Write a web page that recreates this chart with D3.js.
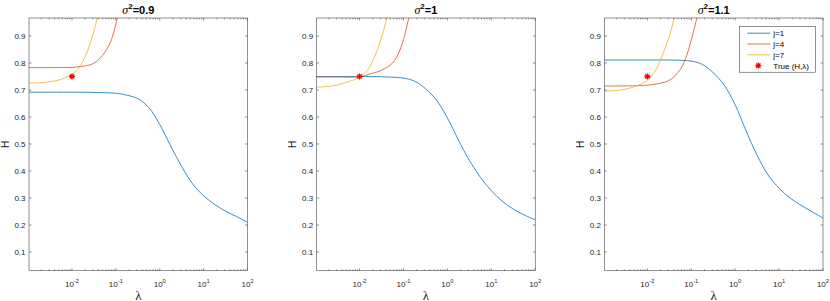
<!DOCTYPE html>
<html>
<head>
<meta charset="utf-8">
<script src="https://cdn.jsdelivr.net/npm/d3@7"></script>
<style>
  html, body { margin: 0; padding: 0; background: #fff; }
  svg { display: block; }
</style>
</head>
<body>
<script>
// ---------------- DATA ----------------
const sigmaLabels = ["0.9", "1", "1.1"];
const seriesNames = ["j=1", "j=4", "j=7"];
const trueLabel = "True (H,\u03bb)";
const trueLambda = 0.01;
const trueH = 0.75;

// exponents of lambda (log10) for sampled points
const j1Exp = [-3, -2, -1.5, -1, -0.75, -0.5, -0.25, 0, 0.25, 0.5, 0.75, 1, 1.25, 1.5, 1.75, 2];
const j1_s09 = [0.692, 0.692, 0.691, 0.688, 0.681, 0.668, 0.635, 0.572, 0.492, 0.416, 0.352, 0.308, 0.276, 0.251, 0.231, 0.210];
const j1_s10 = [0.750, 0.750, 0.749, 0.744, 0.733, 0.705, 0.663, 0.597, 0.515, 0.439, 0.377, 0.327, 0.288, 0.259, 0.237, 0.219];
const j1_s11 = [0.811, 0.811, 0.811, 0.807, 0.795, 0.764, 0.718, 0.645, 0.548, 0.458, 0.385, 0.336, 0.300, 0.273, 0.249, 0.226];

const j4Exp_s09 = [-3, -2.5, -2, -1.75, -1.5, -1.25, -1.1, -1.0, -0.9];
const j4_s09    = [0.783, 0.783, 0.784, 0.788, 0.799, 0.840, 0.887, 0.944, 1.02];
const j4Exp_s10 = [-3, -2.5, -2, -1.75, -1.5, -1.25, -1.1, -1.0, -0.9, -0.8];
const j4_s10    = [0.748, 0.748, 0.749, 0.760, 0.773, 0.800, 0.840, 0.887, 0.952, 1.03];
const j4Exp_s11 = [-3, -2.25, -1.85, -1.5, -1.25, -1.1, -1.0, -0.9, -0.8];
const j4_s11    = [0.715, 0.716, 0.721, 0.736, 0.776, 0.830, 0.886, 0.948, 1.03];

const j7Exp_s09 = [-3, -2.75, -2.5, -2.25, -2.0, -1.85, -1.7, -1.6, -1.5, -1.4];
const j7_s09    = [0.726, 0.727, 0.731, 0.739, 0.759, 0.780, 0.823, 0.866, 0.918, 0.985];
const j7Exp_s10 = [-3, -2.75, -2.5, -2.25, -2.0, -1.8, -1.65, -1.55, -1.45, -1.35];
const j7_s10    = [0.710, 0.713, 0.719, 0.731, 0.748, 0.778, 0.826, 0.870, 0.922, 0.99];
const j7Exp_s11 = [-3, -2.6, -2.25, -2.0, -1.8, -1.65, -1.5, -1.4, -1.3];
const j7_s11    = [0.696, 0.700, 0.715, 0.736, 0.777, 0.832, 0.900, 0.960, 1.03];

const yTicks = [0.1, 0.2, 0.3, 0.4, 0.5, 0.6, 0.7, 0.8, 0.9];
const xTickExp = [-2, -1, 0, 1, 2];

// ---------------- LAYOUT ----------------
const W = 830, H = 301;
const colors = ["#0072BD", "#D95319", "#EDB120"];
const panelLeft = [29, 316.6, 604.4];
const pw = 218.6;
const plotTop = 18, plotBottom = 270.7;
const xDomain = [1.05e-3, 100];
const yDomain = [0.0307, 0.9667];
const axisColor = "#262626";
const sans = "'Liberation Sans', Arial, Helvetica, sans-serif";
const serif = "'Liberation Serif', 'Times New Roman', serif";

const panelData = [
  [{e: j1Exp, v: j1_s09}, {e: j4Exp_s09, v: j4_s09}, {e: j7Exp_s09, v: j7_s09}],
  [{e: j1Exp, v: j1_s10}, {e: j4Exp_s10, v: j4_s10}, {e: j7Exp_s10, v: j7_s10}],
  [{e: j1Exp, v: j1_s11}, {e: j4Exp_s11, v: j4_s11}, {e: j7Exp_s11, v: j7_s11}]
];

const svg = d3.select("body").append("svg")
  .attr("width", W).attr("height", H)
  .attr("viewBox", `0 0 ${W} ${H}`);

svg.append("rect").attr("width", W).attr("height", H).attr("fill", "#fff");

const yScale = d3.scaleLinear().domain(yDomain).range([plotBottom, plotTop]);

function asterisk(g, cx, cy, r, color) {
  const p = d3.path();
  p.moveTo(cx - r, cy); p.lineTo(cx + r, cy);
  p.moveTo(cx, cy - r); p.lineTo(cx, cy + r);
  const d = r * 0.72;
  p.moveTo(cx - d, cy - d); p.lineTo(cx + d, cy + d);
  p.moveTo(cx - d, cy + d); p.lineTo(cx + d, cy - d);
  g.append("path").attr("d", p.toString())
    .attr("stroke", color).attr("stroke-width", 1.3).attr("fill", "none");
}

sigmaLabels.forEach((lab, i) => {
  const left = panelLeft[i], right = left + pw;
  const xScale = d3.scaleLog().domain(xDomain).range([left, right]);
  const g = svg.append("g");

  const clipId = "clip" + i;
  svg.append("clipPath").attr("id", clipId)
    .append("rect").attr("x", left).attr("y", plotTop)
    .attr("width", pw).attr("height", plotBottom - plotTop);

  const line = d3.line()
    .x(d => xScale(d[0])).y(d => yScale(d[1]))
    .curve(d3.curveCatmullRom.alpha(0.5));

  const lgp = g.append("g").attr("clip-path", `url(#${clipId})`);
  panelData[i].forEach((s, k) => {
    const pts = s.e.map((e, m) => [Math.pow(10, e), s.v[m]]);
    lgp.append("path").datum(pts)
      .attr("d", line)
      .attr("fill", "none")
      .attr("stroke", colors[k])
      .attr("stroke-width", 0.8);
  });

  asterisk(g, xScale(trueLambda), yScale(trueH), 3, "#FF0000");

  // box
  g.append("rect").attr("x", left).attr("y", plotTop)
    .attr("width", pw).attr("height", plotBottom - plotTop)
    .attr("fill", "none").attr("stroke", axisColor).attr("stroke-width", 0.5);

  // y ticks
  const tl = 2.5;
  yTicks.forEach(t => {
    const yy = yScale(t);
    g.append("line").attr("x1", left).attr("x2", left + tl).attr("y1", yy).attr("y2", yy)
      .attr("stroke", axisColor).attr("stroke-width", 0.5);
    g.append("line").attr("x1", right).attr("x2", right - tl).attr("y1", yy).attr("y2", yy)
      .attr("stroke", axisColor).attr("stroke-width", 0.5);
    g.append("text").attr("x", left - 3.5).attr("y", yy + 2.9)
      .attr("text-anchor", "end").attr("font-family", sans).attr("font-size", 8)
      .attr("fill", axisColor).text(d3.format(".1f")(t));
  });

  // x ticks (major + minor)
  const allTicks = [];
  for (let e = -3; e <= 2; e++) {
    for (let m = 1; m <= 9; m++) {
      const v = m * Math.pow(10, e);
      if (v >= xDomain[0] && v <= xDomain[1] * 1.0001) allTicks.push({v, major: m === 1});
    }
  }
  allTicks.forEach(t => {
    const xx = xScale(t.v);
    const len = t.major ? 2.5 : 1.4;
    g.append("line").attr("x1", xx).attr("x2", xx).attr("y1", plotBottom).attr("y2", plotBottom - len)
      .attr("stroke", axisColor).attr("stroke-width", 0.5);
    g.append("line").attr("x1", xx).attr("x2", xx).attr("y1", plotTop).attr("y2", plotTop + len)
      .attr("stroke", axisColor).attr("stroke-width", 0.5);
  });
  xTickExp.forEach(e => {
    const xx = xScale(Math.pow(10, e));
    const t = g.append("text").attr("x", xx).attr("y", 286.5)
      .attr("text-anchor", "middle").attr("font-family", sans).attr("font-size", 8)
      .attr("fill", axisColor);
    t.append("tspan").text("10");
    t.append("tspan").attr("dy", -3.8).attr("font-size", 5.8).text(String(e));
  });

  // title
  const cx = (left + right) / 2;
  const title = g.append("text").attr("x", cx).attr("y", 13.5)
    .attr("text-anchor", "middle").attr("font-family", sans).attr("font-size", 11)
    .attr("font-weight", "bold").attr("fill", "#000");
  title.append("tspan").attr("font-family", serif).attr("font-style", "italic")
    .attr("font-weight", "normal").attr("font-size", 12).text("\u03c3");
  title.append("tspan").attr("dy", -4.5).attr("font-size", 8).text("2");
  title.append("tspan").attr("dy", 4.5).text("=" + lab);

  // x label
  g.append("text").attr("x", cx).attr("y", 299.5)
    .attr("text-anchor", "middle").attr("font-family", serif).attr("font-size", 13)
    .attr("fill", axisColor).text("\u03bb");

  // y label
  g.append("text")
    .attr("transform", `translate(${left - 20.5},${(plotTop + plotBottom) / 2}) rotate(-90)`)
    .attr("text-anchor", "middle").attr("font-family", sans).attr("font-size", 10)
    .attr("fill", axisColor).text("H");
});

// legend (third panel)
const legX = 739.3, legY = 26.7, legW = 76, legH = 45.5;
const legend = svg.append("g");
legend.append("rect").attr("x", legX).attr("y", legY).attr("width", legW).attr("height", legH)
  .attr("fill", "#fff").attr("stroke", axisColor).attr("stroke-width", 0.5);
const entryY = [33.2, 44.0, 54.8, 65.6];
seriesNames.forEach((n, k) => {
  legend.append("line").attr("x1", legX + 8).attr("x2", legX + 31)
    .attr("y1", entryY[k]).attr("y2", entryY[k])
    .attr("stroke", colors[k]).attr("stroke-width", 0.8);
  legend.append("text").attr("x", legX + 34).attr("y", entryY[k] + 2.9)
    .attr("font-family", sans).attr("font-size", 8).attr("fill", "#000").text(n);
});
asterisk(legend, legX + 19, entryY[3], 3, "#FF0000");
legend.append("text").attr("x", legX + 34).attr("y", entryY[3] + 2.9)
  .attr("font-family", sans).attr("font-size", 8).attr("fill", "#000").text(trueLabel);
</script>
</body>
</html>
